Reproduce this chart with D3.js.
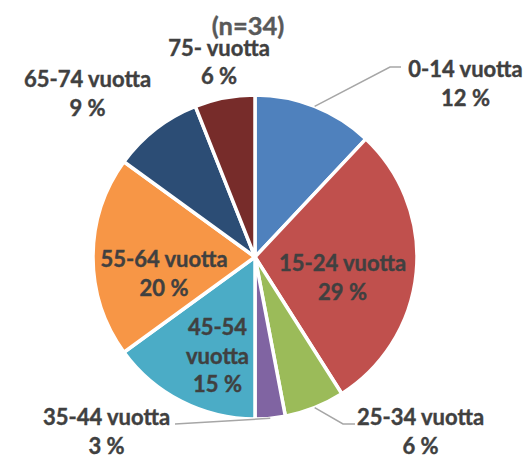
<!DOCTYPE html>
<html>
<head>
<meta charset="utf-8">
<script src="https://cdn.jsdelivr.net/npm/d3@7"></script>
<style>
  html, body { margin: 0; padding: 0; background: #ffffff; }
  svg { display: block; }
</style>
</head>
<body>
<svg id="chart" width="529" height="455"></svg>
<script>
// ---- data ----
const title = "(n=34)";
const categories = ["0-14 vuotta", "15-24 vuotta", "25-34 vuotta", "35-44 vuotta",
                    "45-54 vuotta", "55-64 vuotta", "65-74 vuotta", "75- vuotta"];
const values = [12, 29, 6, 3, 15, 20, 9, 6];
const colors = ["#4F81BD", "#C0504D", "#9BBB59", "#8064A2",
                "#4BACC6", "#F79646", "#2C4D75", "#772C2A"];

// ---- layout (styling / placement only) ----
const W = 529, H = 455;
const cx = 255, cy = 257, R = 162;
const lineH = 28.5;
// label placement: [centre x, first baseline y, break category into lines?]
const labelPos = [
  [465.5, 77, false],
  [342.5, 271, false],
  [420.5, 425, false],
  [106.5, 425, false],
  [217.5, 335, true],
  [164, 267, false],
  [87.5, 87, false],
  [219, 55.5, false]
];
// leader lines: extra points after arc edge (absolute); null = none
const leaders = [
  [[390, 67], [401, 67]],
  null,
  [[343, 424], [355, 424]],
  [[175, 424]],
  null, null, null, null
];

const svg = d3.select("#chart");
const g = svg.append("g").attr("transform", `translate(${cx},${cy})`);

const pie = d3.pie().sort(null).value(d => d.v);
const data = categories.map((c, i) => ({ c, v: values[i], i }));
const arcs = pie(data);
const arc = d3.arc().innerRadius(0).outerRadius(R);
const edge = d3.arc().innerRadius(R).outerRadius(R);

g.selectAll("path.slice")
  .data(arcs)
  .join("path")
  .attr("class", "slice")
  .attr("d", arc)
  .attr("fill", d => colors[d.data.i])
  .attr("stroke", "#ffffff")
  .attr("stroke-width", 3.5)
  .attr("stroke-linejoin", "round");

// leader lines
arcs.forEach(a => {
  const pts = leaders[a.data.i];
  if (!pts) return;
  const s = edge.centroid(a);
  const all = [[s[0] + cx, s[1] + cy]].concat(pts);
  svg.append("path")
    .attr("d", d3.line()(all))
    .attr("fill", "none")
    .attr("stroke", "#A6A6A6")
    .attr("stroke-width", 1.5);
});

// labels
const fontFam = "Lato, 'Open Sans', sans-serif";
arcs.forEach(a => {
  const i = a.data.i;
  const [x, y, split] = labelPos[i];
  const pct = a.data.v + " %";
  const lines = split ? a.data.c.split(" ").concat([pct]) : [a.data.c, pct];
  const t = svg.append("text")
    .attr("x", x).attr("y", y)
    .attr("text-anchor", "middle")
    .attr("font-family", fontFam)
    .attr("font-weight", 700)
    .attr("font-size", 22)
    .attr("fill", "#404040")
    .attr("stroke", "#404040")
    .attr("stroke-width", 0.4);
  lines.forEach((ln, k) => {
    t.append("tspan").attr("x", x).attr("y", y + k * lineH).text(ln);
  });
});

// title
svg.append("text")
  .attr("x", 248).attr("y", 35)
  .attr("text-anchor", "middle")
  .attr("font-family", fontFam)
  .attr("font-weight", 700)
  .attr("font-size", 25.5)
  .attr("fill", "#595959")
  .attr("stroke", "#595959")
  .attr("stroke-width", 0.4)
  .text(title);
</script>
</body>
</html>
